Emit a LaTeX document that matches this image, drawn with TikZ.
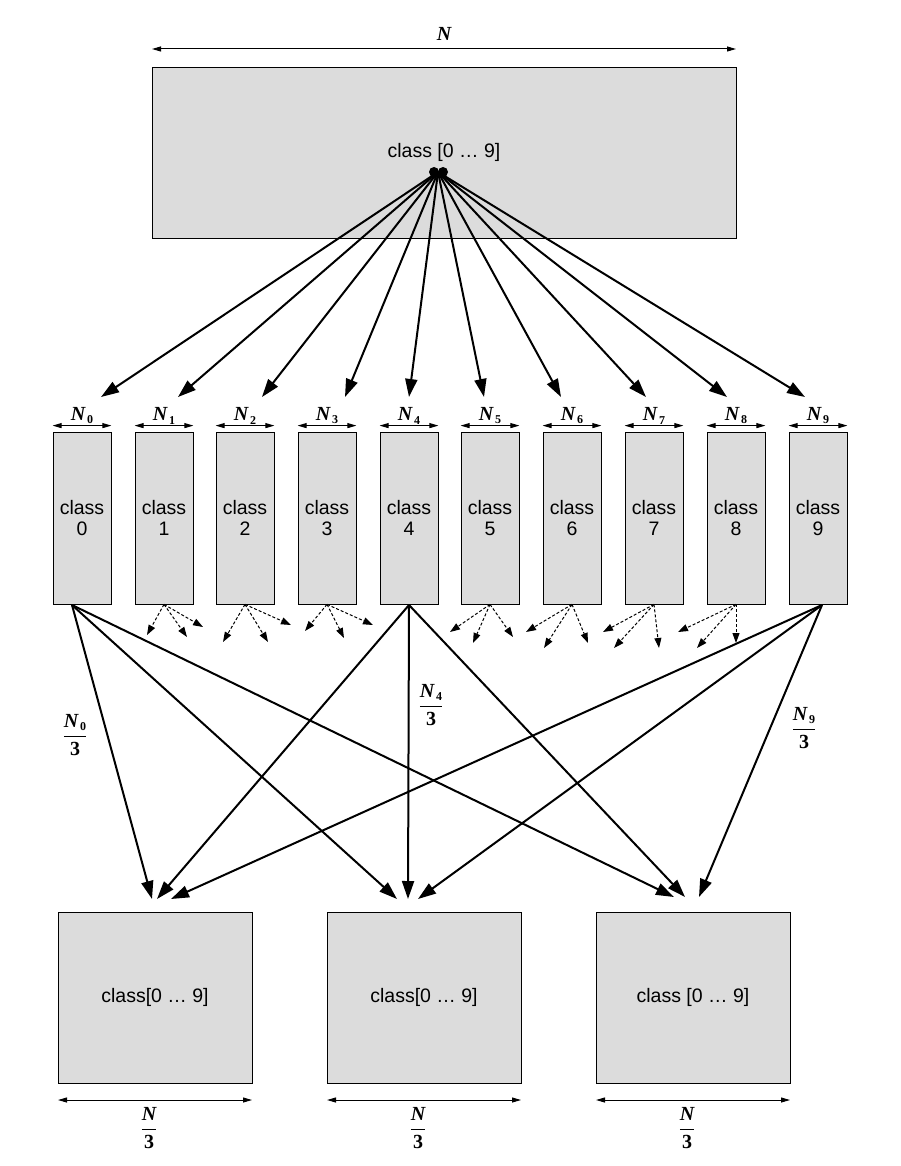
\documentclass[tikz,border=0pt]{standalone}
\usepackage{fontspec}
\setmainfont{Liberation Sans}
\newfontfamily\nfont{Liberation Serif}
\usetikzlibrary{arrows.meta,calc}
\definecolor{boxgray}{RGB}{220,220,220}
\newcommand{\Nsub}[1]{{\nfont\bfseries\itshape N}\raisebox{-0.3ex}{\nfont\bfseries\fontsize{12}{12}\selectfont\,#1}}
\newcommand{\Nfrac}[1]{$\displaystyle\frac{\hbox{#1}}{\hbox{\nfont\bfseries 3}}$}
\begin{document}
\begin{tikzpicture}[x=1pt,y=-1pt,
  box/.style={draw, line width=0.8pt, fill=boxgray, inner sep=0pt, align=center,
    font=\fontsize{19.5}{21.5}\selectfont},
  big/.style={line width=2pt, -{Triangle[length=18pt,width=12pt]}},
  dsh/.style={line width=1pt, dash pattern=on 3pt off 2pt, -{Triangle[length=10pt,width=7pt]}},
  dim/.style={line width=1pt, {Triangle[length=9pt,width=5pt]}-{Triangle[length=9pt,width=5pt]}},
  nlab/.style={font=\fontsize{20}{22}\selectfont, inner sep=1pt},
  flab/.style={font=\fontsize{20}{22}\selectfont, inner sep=0pt}
]
\useasboundingbox (0,0) rectangle (901,1166);

% top box
\node[box, minimum width=584pt, minimum height=171pt] (top) at (444,152.5) {class [0 … 9]};
\coordinate (tl) at (152,49);
\coordinate (tr) at (736,49);
\draw[dim] (tl) -- (tr) node[midway, above=7pt, nlab] {{\nfont\bfseries\itshape N}};

% class boxes
\foreach \i/\x in {0/53,1/135,2/216,3/298,4/380,5/461,6/543,7/625,8/707,9/789}{
  \node[box, minimum width=58pt, minimum height=172pt] (c\i) at (\x+29,518) {class\\\i};
  \coordinate (dl\i) at ($(c\i.north west)+(0,-6)$);
  \coordinate (dr\i) at ($(c\i.north east)+(0,-6)$);
  \draw[dim] (dl\i) -- (dr\i) node[midway, above=0pt, nlab] {\Nsub{\i}};
}

% source blob
\coordinate (src) at (438,172);
\fill (434,172) circle (5);
\fill (443,172) circle (5);
\foreach \i/\x in {0/101,1/178,2/262,3/345,4/409,5/484,6/561,7/646,8/727,9/805}{
  \coordinate (t\i) at (\x,397);
  \draw[big] (src) -- (t\i);
}

% dashed arrows
\foreach \i/\ax/\ay/\bx/\by/\cx/\cy in {
  1/147/635/187/637/203/627,
  2/223/642/268/642/291/625,
  3/305/631/344/638/373/625,
  5/450/632/473/643/513/637,
  6/526/632/544/648/588/643,
  7/603/632/614/648/659/648,
  8/678/632/697/648/736/643}{
  \coordinate (da\i) at (\ax,\ay);
  \coordinate (db\i) at (\bx,\by);
  \coordinate (dc\i) at (\cx,\cy);
  \draw[dsh] (c\i.south) -- (da\i);
  \draw[dsh] (c\i.south) -- (db\i);
  \draw[dsh] (c\i.south) -- (dc\i);
}

% bottom boxes
\foreach \j/\x/\t in {0/58/{class[0 … 9]},1/327/{class[0 … 9]},2/596/{class [0 … 9]}}{
  \node[box, minimum width=194pt, minimum height=171pt] (b\j) at (\x+97,997.5) {\t};
  \coordinate (bl\j) at (\x,1100);
  \coordinate (br\j) at (\x+194,1100);
  \draw[dim] (bl\j) -- (br\j);
  \node[flab] (bn\j) at (\x+91,1128) {$\displaystyle\frac{\hbox{\nfont\bfseries\itshape N}}{\hbox{\nfont\bfseries 3}}$};
}

% lower solid arrows
\coordinate (s0) at (72,605);
\coordinate (s4) at (409,605);
\coordinate (s9) at (822,605);
\foreach \s/\ax/\bx/\cx in {0/152/397/674, 4/157/408/685, 9/171/418/699}{
  \coordinate (e\s a) at (\ax,899);
  \coordinate (e\s b) at (\bx,899);
  \coordinate (e\s c) at (\cx,897);
  \draw[big] (s\s) -- (e\s a);
  \draw[big] (s\s) -- (e\s b);
  \draw[big] (s\s) -- (e\s c);
}

% fraction labels
\node[flab] (f0) at (75,735) {\Nfrac{\Nsub{0}}};
\node[flab] (f4) at (431,705) {\Nfrac{\Nsub{4}}};
\node[flab] (f9) at (804,728) {\Nfrac{\Nsub{9}}};
\end{tikzpicture}
\end{document}
